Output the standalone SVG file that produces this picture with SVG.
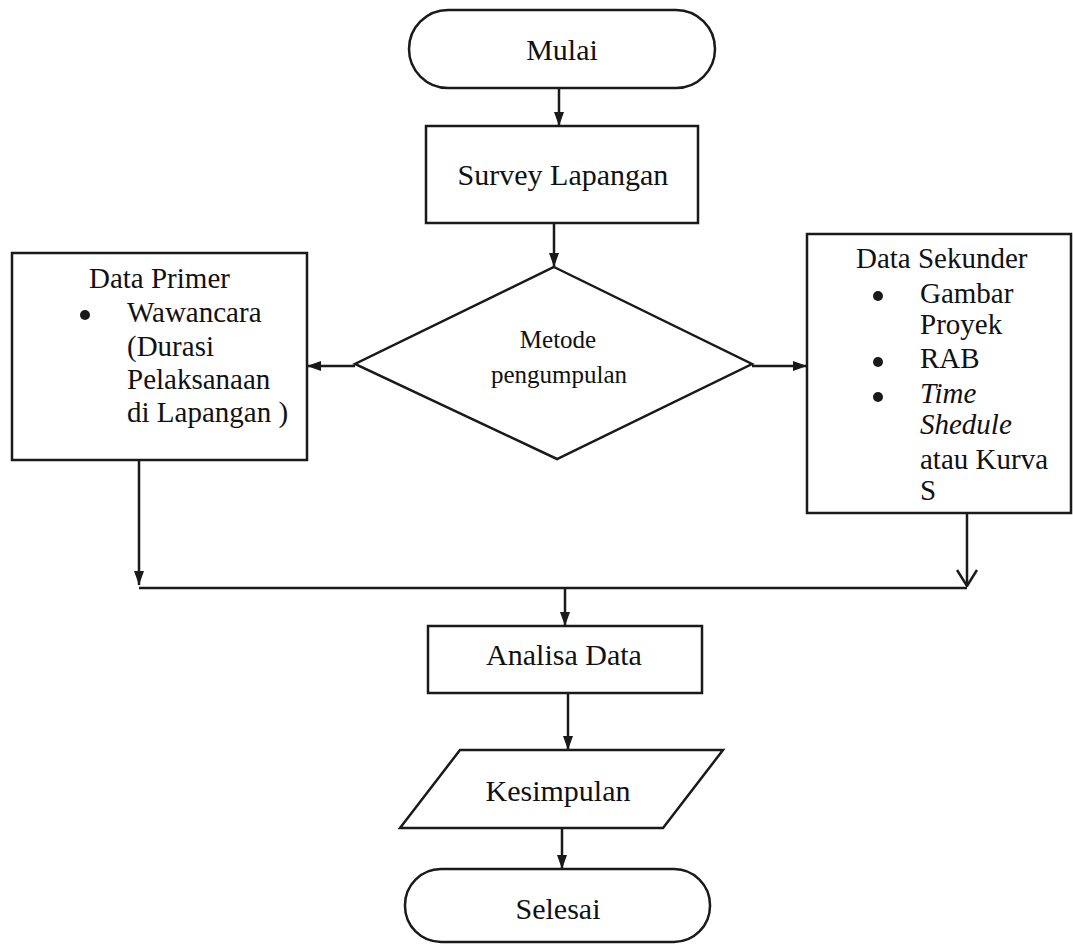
<svg xmlns="http://www.w3.org/2000/svg" width="1073" height="945" viewBox="0 0 1073 945">
<style>
.s{fill:#fff;stroke:#1a1a1a;stroke-width:2.5}
.c{fill:none;stroke:#1a1a1a;stroke-width:2.5}
text{font-family:"Liberation Serif","Times New Roman",serif;fill:#111}
.m{font-size:30px;text-anchor:middle}
.b{font-size:29px}
.d{font-size:25px;text-anchor:middle}
.dot{fill:#1a1a1a}
</style>
<defs>
<marker id="arr" viewBox="0 0 14 10" refX="14" refY="5" markerWidth="14" markerHeight="10" orient="auto" markerUnits="userSpaceOnUse">
<path d="M0,0 L14,5 L0,10 z" fill="#1a1a1a"/>
</marker>
<marker id="open" viewBox="0 0 18 22" refX="17" refY="11" markerWidth="18" markerHeight="22" orient="auto" markerUnits="userSpaceOnUse">
<path d="M1,1 L17,11 L1,21" fill="none" stroke="#1a1a1a" stroke-width="2.5"/>
</marker>
</defs>
<rect width="1073" height="945" fill="#fff"/>
<g id="connectors">
<line class="c" x1="559" y1="88" x2="559" y2="126" marker-end="url(#arr)"/>
<line class="c" x1="554" y1="223" x2="554" y2="267" marker-end="url(#arr)"/>
<line class="c" x1="355" y1="366" x2="307" y2="366" marker-end="url(#arr)"/>
<line class="c" x1="752" y1="366" x2="807" y2="366" marker-end="url(#arr)"/>
<line class="c" x1="139" y1="460" x2="139" y2="585" marker-end="url(#arr)"/>
<line class="c" x1="967" y1="513" x2="967" y2="586" marker-end="url(#open)"/>
<line class="c" x1="139" y1="588" x2="967" y2="588"/>
<line class="c" x1="565" y1="588" x2="565" y2="626" marker-end="url(#arr)"/>
<line class="c" x1="568" y1="693" x2="568" y2="750" marker-end="url(#arr)"/>
<line class="c" x1="562" y1="828" x2="562" y2="869" marker-end="url(#arr)"/>
</g>
<g id="mulai">
<rect class="s" x="409" y="10" width="306" height="78" rx="39" ry="39"/>
<text class="m" x="562" y="60">Mulai</text>
</g>
<g id="survey">
<rect class="s" x="426" y="126" width="272" height="97"/>
<text class="m" x="563" y="185">Survey Lapangan</text>
</g>
<g id="metode">
<polygon class="s" points="554,267 752,364 557,459 355,364"/>
<text class="d" x="558" y="348">Metode</text>
<text class="d" x="559" y="383">pengumpulan</text>
</g>
<g id="data-primer">
<rect class="s" x="12" y="253" width="295" height="207"/>
<text class="b" x="89" y="288">Data Primer</text>
<circle class="dot" cx="85" cy="315" r="5"/>
<text class="b" x="127" y="322">Wawancara</text>
<text class="b" x="127" y="356">(Durasi</text>
<text class="b" x="127" y="389">Pelaksanaan</text>
<text class="b" x="127" y="422">di Lapangan )</text>
</g>
<g id="data-sekunder">
<rect class="s" x="807" y="234" width="264" height="279"/>
<text class="b" x="856" y="268">Data Sekunder</text>
<circle class="dot" cx="878" cy="296" r="5"/>
<text class="b" x="920" y="303">Gambar</text>
<text class="b" x="920" y="334">Proyek</text>
<circle class="dot" cx="878" cy="362" r="5"/>
<text class="b" x="920" y="368">RAB</text>
<circle class="dot" cx="878" cy="397" r="5"/>
<text class="b" x="920" y="403" font-style="italic">Time</text>
<text class="b" x="920" y="434" font-style="italic">Shedule</text>
<text class="b" x="920" y="469">atau Kurva</text>
<text class="b" x="920" y="500">S</text>
</g>
<g id="analisa">
<rect class="s" x="428" y="626" width="274" height="67"/>
<text class="m" x="564" y="665">Analisa Data</text>
</g>
<g id="kesimpulan">
<polygon class="s" points="460,750 723,750 663,828 400,828"/>
<text class="m" x="558" y="801">Kesimpulan</text>
</g>
<g id="selesai">
<rect class="s" x="405" y="869" width="305" height="73" rx="36" ry="36"/>
<text class="m" x="558" y="919">Selesai</text>
</g>
</svg>
